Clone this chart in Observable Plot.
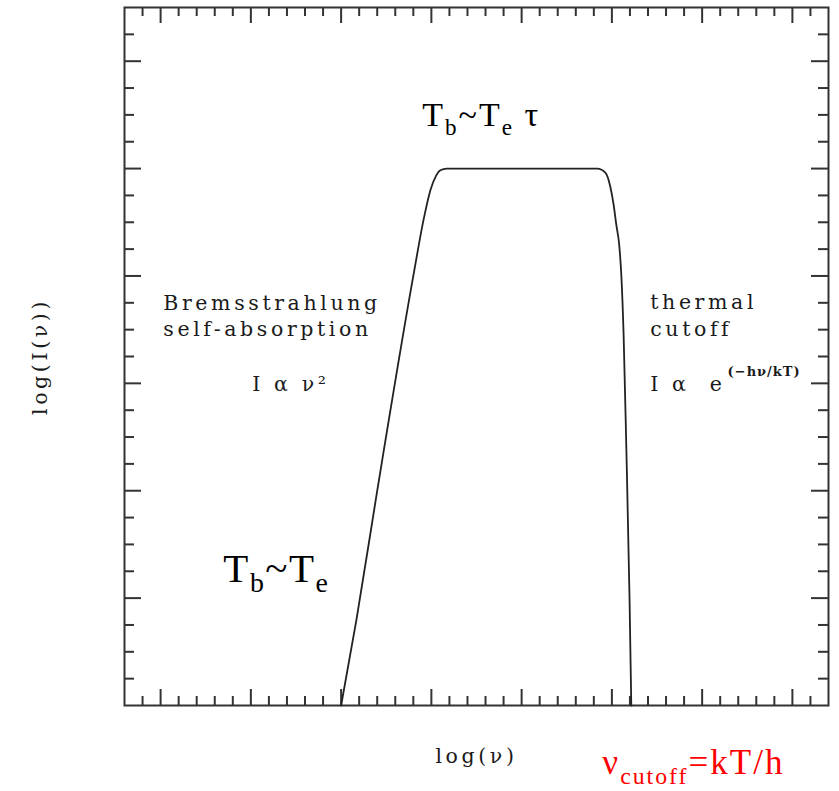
<!DOCTYPE html>
<html><head><meta charset="utf-8">
<script src="https://cdn.jsdelivr.net/npm/d3@7"></script>
<script src="https://cdn.jsdelivr.net/npm/@observablehq/plot@0.6"></script>
<style>
body{margin:0;background:#fff}
g[aria-description="pg"] text{letter-spacing:3.6px}
g[aria-description="pgexp"] text{letter-spacing:1px}
g[aria-description="tb-top"] text{letter-spacing:2px}
g[aria-description="tb-low"] text{letter-spacing:1.5px}
g[aria-description="cutoff"] text{letter-spacing:2px}
</style>
</head><body><div id="chart"></div>
<script>
// Curve (x in major-tick units of log ν, y in major-tick units of log I)
const logNu = [2.0, 2.17, 2.4, 2.8, 2.92, 2.99, 3.05, 3.1, 3.17, 4.0, 4.84, 4.93, 4.98, 5.02, 5.05, 5.08, 5.105, 5.13, 5.16, 5.196, 5.215];
const logI  = [0, 0.8, 2.0, 4.0, 4.55, 4.8, 4.93, 4.985, 5.0, 5.0, 5.0, 4.96, 4.84, 4.66, 4.47, 4.3, 4.0, 3.45, 2.4, 0.98, 0];

// Tick values (unlabelled)
const xMajor = [0, 1, 2, 3, 4, 5, 6, 7];
const xMinor = d3.range(-1, 37).filter(i => i % 5 !== 0).map(i => i / 5);
const yMajor = [1, 2, 3, 4, 5, 6];
const yMinor = d3.range(1, 26).filter(i => i % 4 !== 0).map(i => i / 4);

// Texts
const xLabel = "log(ν)";
const yLabel = "log(I(ν))";
const leftNote = "Bremsstrahlung\nself-absorption";
const rightNote = "thermal\ncutoff";
const leftLaw = "I α ν²";
const rightLaw = "I α\u00a0 e";
const rightExp = "(−hν/kT)";
const topLabel = [["T"], ["b", "sub"], ["~T"], ["e", "sub"], [" τ"]];
const lowLabel = [["T"], ["b", "sub"], ["~T"], ["e", "sub"]];
const redLabel = [["ν"], ["cutoff", "sub"], ["=kT/h"]];

const curve = logNu.map((x, i) => ({x, y: logI[i]}));

const W = 839, H = 791, mT = 7, mB = 86, mL = 124, mR = 11;
const innerH = H - mT - mB, innerW = W - mL - mR;
const ink = "#333";
const pg = {fontFamily: "DejaVu Serif", fontSize: 20.5, fill: "#1a1a1a", textAnchor: "start", lineAnchor: "bottom", ariaDescription: "pg"};
const cam = {fontFamily: "Liberation Serif", fill: "#000", textAnchor: "start", lineAnchor: "bottom"};
const joined = parts => parts.map(p => p[0]).join("");

const svg = Plot.plot({
  width: W, height: H,
  marginTop: mT, marginBottom: mB, marginLeft: mL, marginRight: mR,
  x: {domain: [-0.4, 7.4], axis: null},
  y: {domain: [0, 6.5], axis: null},
  style: {background: "white", overflow: "visible"},
  marks: [
    // inward ticks on all four sides
    Plot.tickX(xMajor, {x: d => d, insetTop: innerH - 16, stroke: ink, strokeWidth: 2}),
    Plot.tickX(xMinor, {x: d => d, insetTop: innerH - 9, stroke: ink, strokeWidth: 2}),
    Plot.tickX(xMajor, {x: d => d, insetBottom: innerH - 16, stroke: ink, strokeWidth: 2}),
    Plot.tickX(xMinor, {x: d => d, insetBottom: innerH - 9, stroke: ink, strokeWidth: 2}),
    Plot.tickY(yMajor, {y: d => d, insetRight: innerW - 17, stroke: ink, strokeWidth: 2}),
    Plot.tickY(yMinor, {y: d => d, insetRight: innerW - 10, stroke: ink, strokeWidth: 2}),
    Plot.tickY(yMajor, {y: d => d, insetLeft: innerW - 17, stroke: ink, strokeWidth: 2}),
    Plot.tickY(yMinor, {y: d => d, insetLeft: innerW - 10, stroke: ink, strokeWidth: 2}),
    Plot.frame({stroke: ink, strokeWidth: 2}),
    Plot.line(curve, {x: "x", y: "y", curve: "monotone-x", stroke: "#222", strokeWidth: 1.8, strokeLinejoin: "round"}),
    // axis labels
    Plot.text([xLabel], {...pg, frameAnchor: "bottom", textAnchor: "middle", dy: 57}),
    Plot.text([yLabel], {...pg, frameAnchor: "left", textAnchor: "middle", lineAnchor: "middle", rotate: -90, dx: -84}),
    // annotations
    Plot.text([leftNote], {...pg, x: 0.03, y: 3.442, lineHeight: 1.27}),
    Plot.text([rightNote], {...pg, x: 5.425, y: 3.442, lineHeight: 1.3}),
    Plot.text([leftLaw], {...pg, x: 1.016, y: 2.928}),
    Plot.text([rightLaw], {...pg, x: 5.425, y: 2.928}),
    Plot.text([rightExp], {...pg, ariaDescription: "pgexp", fontSize: 13, fontWeight: "bold", x: 6.282, y: 3.073}),
    Plot.text([joined(topLabel)], {...cam, ariaDescription: "tb-top", fontSize: 34, x: 2.899, y: 5.40}),
    Plot.text([joined(lowLabel)], {...cam, ariaDescription: "tb-low", fontSize: 41, x: 0.695, y: 1.148}),
    Plot.text([joined(redLabel)], {...cam, ariaDescription: "cutoff", fill: "#ff0000", fontSize: 35, x: 4.894, y: -0.64})
  ]
});

function richText(tag, parts, fs, subShift) {
  const t = svg.querySelector(`g[aria-description="${tag}"] text`);
  if (!t) return;
  t.textContent = "";
  let shift = 0;
  for (const [s, kind] of parts) {
    const ts = document.createElementNS("http://www.w3.org/2000/svg", "tspan");
    const target = kind === "sub" ? fs * subShift : 0;
    ts.setAttribute("dy", target - shift);
    shift = target;
    if (kind) ts.setAttribute("font-size", (fs * 0.68).toFixed(1));
    ts.textContent = s;
    t.appendChild(ts);
  }
}
richText("tb-top", topLabel, 34, 0.29);
richText("tb-low", lowLabel, 41, 0.25);
richText("cutoff", redLabel, 35, 0.27);

document.getElementById("chart").appendChild(svg);
</script>
</body></html>
